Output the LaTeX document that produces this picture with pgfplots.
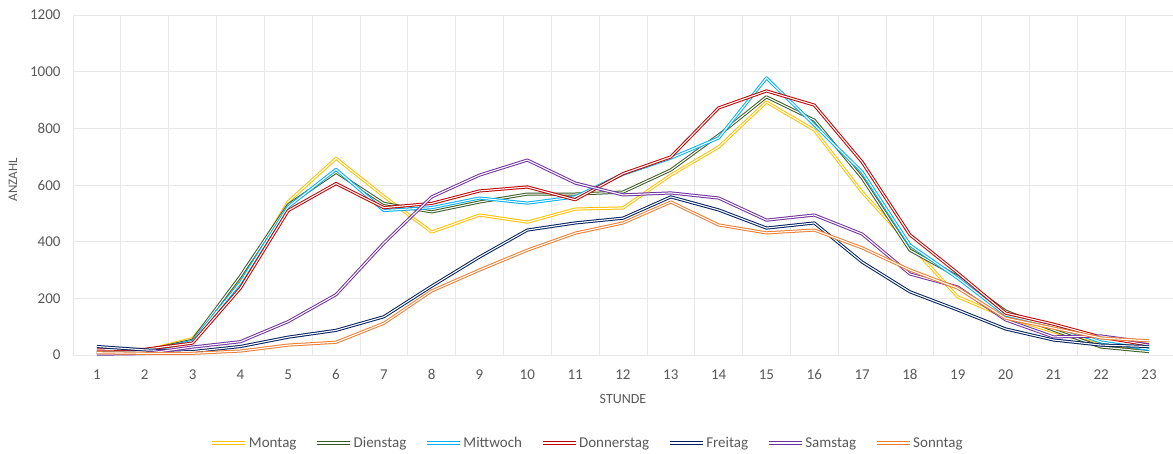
\documentclass[border=0pt]{standalone}
\usepackage{pgfplots}
\pgfplotsset{compat=1.18}
\usepackage{pgfplotstable}
\usepackage{fontspec}
\setmainfont{Carlito}
\definecolor{txt}{HTML}{595959}
\definecolor{grd}{HTML}{E8E8E8}
\definecolor{axl}{HTML}{D9D9D9}
\definecolor{cMo}{HTML}{FFC000}
\definecolor{cDi}{HTML}{3A5A24}
\definecolor{cMi}{HTML}{00B0F0}
\definecolor{cDo}{HTML}{C00000}
\definecolor{cFr}{HTML}{002060}
\definecolor{cSa}{HTML}{7030A0}
\definecolor{cSo}{HTML}{ED7D31}
\pgfplotstableread{
h Mo Di Mi Do Fr Sa So
1 12 10 8 18 30 3 8
2 15 14 12 20 18 5 6
3 58 52 48 42 12 28 6
4 258 278 255 236 30 47 14
5 541 530 523 510 63 118 35
6 694 645 655 605 87 213 45
7 560 535 510 520 135 395 112
8 434 505 520 535 243 558 226
9 494 540 554 579 346 635 300
10 469 568 536 593 441 688 370
11 515 568 558 548 466 607 430
12 519 575 638 640 483 565 466
13 635 653 695 699 558 572 540
14 734 776 766 872 512 554 459
15 893 911 978 932 448 476 431
16 794 829 812 882 466 494 441
17 575 625 646 681 328 427 378
18 390 370 388 424 223 286 300
19 205 277 271 289 159 240 236
20 134 155 141 148 92 124 130
21 82 88 102 109 53 64 95
22 35 28 46 63 35 67 60
23 25 12 20 35 30 44 50
}\data
\begin{document}
\begin{tikzpicture}
\path[use as bounding box] (-73bp,-99bp) rectangle (1100bp,355bp);
\begin{axis}[
  scale only axis, width=1100bp, height=340bp,
  xmin=0.5, xmax=23.5, ymin=0, ymax=1200,
  xtick={1,...,23}, ytick={0,200,...,1200},
  minor xtick={0.5,1.5,...,23.5},
  xminorgrids, ymajorgrids,
  major grid style={grd, line width=0.75bp},
  minor grid style={grd, line width=0.75bp},
  axis line style={draw=none},
  major tick length=0, minor tick length=0,
  extra y ticks={0}, extra y tick labels={},
  extra y tick style={grid style={axl, line width=1bp}},
  tick label style={font=\fontsize{15bp}{17bp}\selectfont, text=txt},
  /pgf/number format/assume math mode=true,
  /pgf/number format/1000 sep={},
  xticklabel style={yshift=-11bp},
  yticklabel style={xshift=-9bp},
  xlabel={STUNDE}, ylabel={ANZAHL},
  every axis x label/.style={at={(axis description cs:0.5,-0.1294)}, anchor=center, font=\fontsize{14bp}{16bp}\selectfont, text=txt},
  every axis y label/.style={at={(axis description cs:-0.0545,0.515)}, anchor=center, rotate=90, font=\fontsize{13bp}{15bp}\selectfont, text=txt},
  legend style={at={(axis description cs:0.468,-0.2588)}, anchor=center, draw=none, fill=none,
    font=\fontsize{15bp}{17bp}\selectfont, text=txt,
    /tikz/every even column/.append style={column sep=17bp}},
  legend columns=7,
  legend image code/.code={\draw[#1] (0bp,0bp) -- (33bp,0bp);},
  every axis plot/.append style={line width=1bp, double=white, double distance=1.1bp, line join=round},
  no markers,
]
\addplot[cMo] table[x=h,y=Mo]{\data};
\addplot[cDi] table[x=h,y=Di]{\data};
\addplot[cMi] table[x=h,y=Mi]{\data};
\addplot[cDo] table[x=h,y=Do]{\data};
\addplot[cFr] table[x=h,y=Fr]{\data};
\addplot[cSa] table[x=h,y=Sa]{\data};
\addplot[cSo] table[x=h,y=So]{\data};
\legend{Montag,Dienstag,Mittwoch,Donnerstag,Freitag,Samstag,Sonntag}
\end{axis}
\end{tikzpicture}
\end{document}
